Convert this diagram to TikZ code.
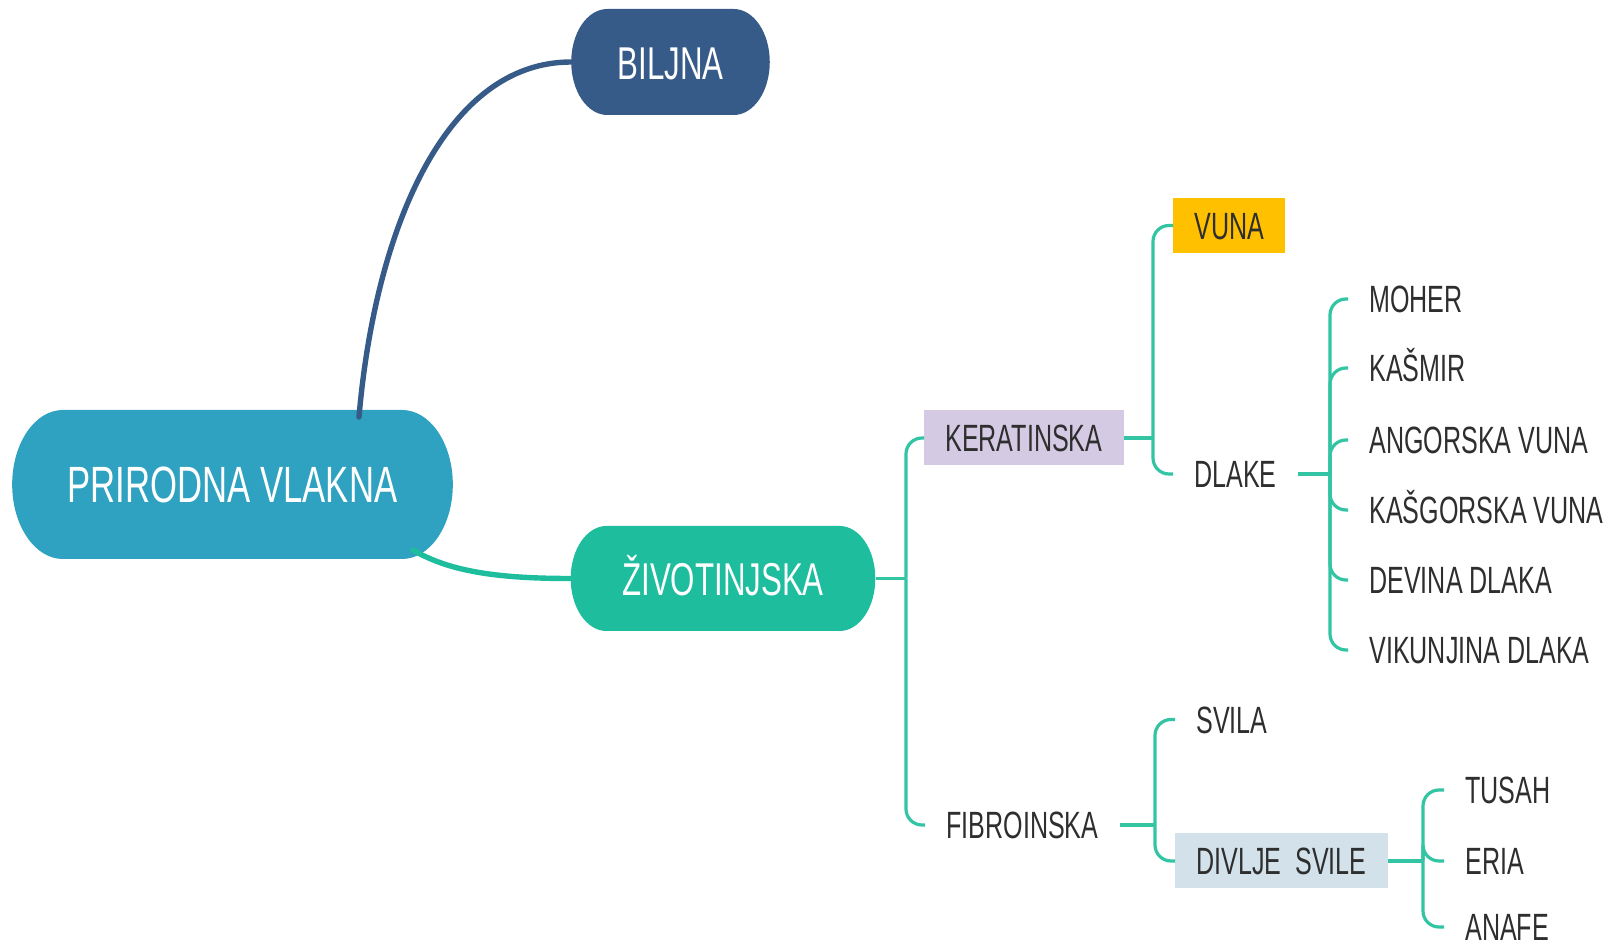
\documentclass[tikz,border=0pt]{standalone}
\usepackage{fontspec}
\setmainfont{Liberation Sans}
\usepackage{tikz}
\usetikzlibrary{shapes.misc}

\definecolor{prvcol}{HTML}{2EA2C0}
\definecolor{biljcol}{HTML}{375B88}
\definecolor{zivcol}{HTML}{1DBD9D}
\definecolor{linecol}{HTML}{33C4A4}
\definecolor{keratcol}{HTML}{D4CAE3}
\definecolor{vunacol}{HTML}{FFC000}
\definecolor{divcol}{HTML}{D3E2EA}
\definecolor{leafcol}{HTML}{2E2E2E}

\begin{document}
\begin{tikzpicture}[x=0.5pt,y=-0.5pt]
	 \tikzstyle{main}=[rounded rectangle,inner sep=0pt,xscale=0.68,text=white,text height=17.2pt,text depth=0pt,font=\fontsize{24}{24}\selectfont]
	 \tikzstyle{leaf}=[anchor=west,xscale=0.66,inner xsep=16pt,inner ysep=0pt,minimum height=27.5pt,text=leafcol,text height=13.6pt,text depth=0pt,font=\fontsize{19}{19}\selectfont]
	 \tikzstyle{edge}=[draw,line width=1.6pt,linecol,rounded corners=8pt]
	 \tikzstyle{link}=[draw,line width=2.7pt,line cap=round]
	 \useasboundingbox (0,0) rectangle (1614,946);

	 % glavni cvorovi
	 \node[main,fill=prvcol,minimum width=324pt,minimum height=74.5pt,font=\fontsize{25.5}{25.5}\selectfont,text height=18.3pt] (prv) at (232.5,484.5) {PRIRODNA VLAKNA};
	 \node[main,fill=biljcol,minimum width=146pt,minimum height=53pt,font=\fontsize{23}{23}\selectfont] (bilj) at (670.5,62) {BILJNA};
	 \node[main,fill=zivcol,minimum width=224pt,minimum height=52.5pt,font=\fontsize{23}{23}\selectfont] (ziv) at (723,578.5) {ŽIVOTINJSKA};

	 \coordinate (bstart) at (359,417);
	 \coordinate (zstart) at (413,550);
	 \draw[link,biljcol] (bstart) .. controls (375,230) and (445,62) .. (bilj.west);
	 \draw[link,zivcol] (zstart) .. controls (450,572) and (500,578.5) .. (ziv.west);

	 % stablo
	 \node[leaf,fill=keratcol] (kerat) at (924,438) {KERATINSKA};
	 \node[leaf] (fibro) at (925,825) {FIBROINSKA};

	 \node[leaf,fill=vunacol] (vuna) at (1173,225.5) {VUNA};
	 \node[leaf] (dlake) at (1173,474) {DLAKE};

	 \node[leaf] (moher) at (1348,299) {MOHER};
	 \node[leaf] (kasmir) at (1348,368) {KAŠMIR};
	 \node[leaf] (angora) at (1348,440) {ANGORSKA VUNA};
	 \node[leaf] (kasgor) at (1348,510) {KAŠGORSKA VUNA};
	 \node[leaf] (devina) at (1348,580) {DEVINA DLAKA};
	 \node[leaf] (vikunja) at (1348,650) {VIKUNJINA DLAKA};

	 \node[leaf] (svila) at (1175,719.5) {SVILA};
	 \node[leaf,fill=divcol] (divlje) at (1175,861) {DIVLJE\ \ SVILE};

	 \node[leaf] (tusah) at (1444,790) {TUSAH};
	 \node[leaf] (eria) at (1444,861) {ERIA};
	 \node[leaf,minimum height=0pt] (anafe) at (1444,927) {ANAFE};

	 \coordinate (j1) at (906,578.5);
	 \coordinate (j2) at (1153,438);
	 \coordinate (j3) at (1330,474);
	 \coordinate (j4) at (1155,825);
	 \coordinate (j5) at (1423,861);

	 \draw[edge] (ziv.east) -- (j1);
	 \draw[edge] (j1) |- (kerat.west);
	 \draw[edge] (j1) |- (fibro.west);

	 \draw[edge] (kerat.east) -- (j2);
	 \draw[edge] (j2) |- (vuna.west);
	 \draw[edge] (j2) |- (dlake.west);

	 \draw[edge] (dlake.east) -- (j3);
	 \draw[edge] (j3) |- (moher.west);
	 \draw[edge] (j3) |- (kasmir.west);
	 \draw[edge] (j3) |- (angora.west);
	 \draw[edge] (j3) |- (kasgor.west);
	 \draw[edge] (j3) |- (devina.west);
	 \draw[edge] (j3) |- (vikunja.west);

	 \draw[edge] (fibro.east) -- (j4);
	 \draw[edge] (j4) |- (svila.west);
	 \draw[edge] (j4) |- (divlje.west);

	 \draw[edge] (divlje.east) -- (j5);
	 \draw[edge] (j5) |- (tusah.west);
	 \draw[edge] (j5) |- (eria.west);
	 \draw[edge] (j5) |- (anafe.west);
\end{tikzpicture}
\end{document}
